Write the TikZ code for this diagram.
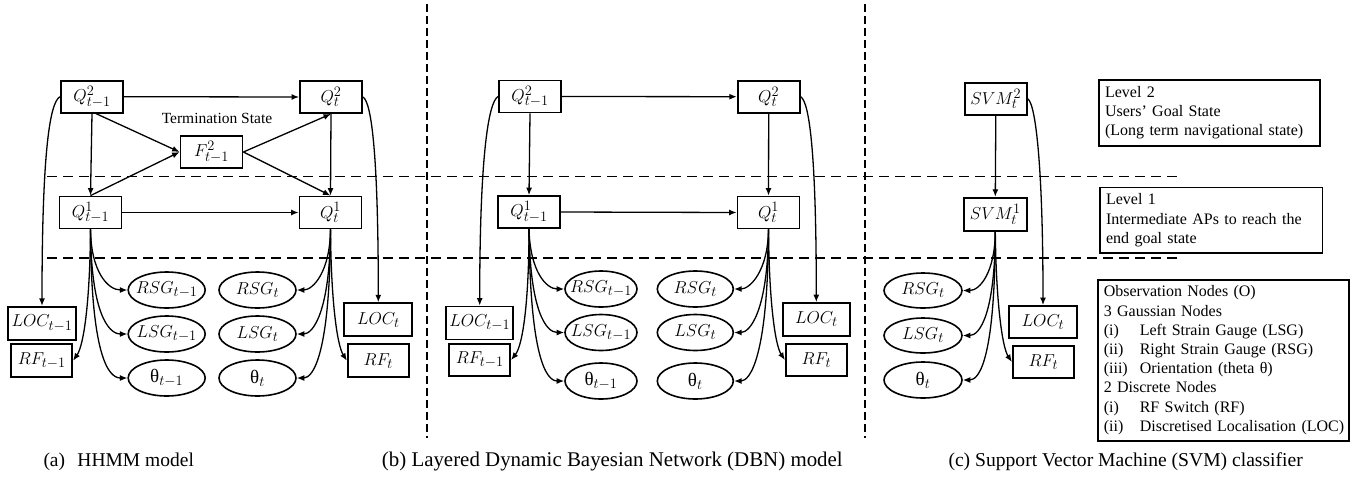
\documentclass[tikz,border=0pt]{standalone}
\usepackage{fontspec}
\setmainfont{Liberation Serif}
\usetikzlibrary{shapes.geometric,arrows.meta}
\begin{document}
\begin{tikzpicture}[x=1pt,y=-1pt,
  mbox/.style={draw, line width=1.8pt, minimum width=62pt, minimum height=32pt, inner sep=0pt, font=\fontsize{19}{22}\selectfont},
  ell/.style={draw, ellipse, line width=1.6pt, minimum width=77pt, minimum height=36pt, inner sep=0pt, font=\fontsize{19}{22}\selectfont},
  arr/.style={line width=1.3pt, -{Latex[length=7.5pt,width=6pt]}},
  dline/.style={line width=1.4pt, dash pattern=on 10pt off 6pt},
  vline/.style={line width=1.4pt, dash pattern=on 8pt off 4pt},
  tbox/.style={draw, line width=1.6pt, anchor=north west, align=left, inner xsep=6pt, inner ysep=0pt, font=\fontsize{16}{19.2}\selectfont},
  captxt/.style={anchor=base west, inner sep=0pt},
  lbl/.style={inner sep=0pt, font=\fontsize{15.5}{18}\selectfont}
]
\useasboundingbox (0,0) rectangle (1364,485);

% dashed separators
\draw[vline] (427,4) -- (427,438);
\draw[vline] (865,4) -- (865,438);
\draw[dline] (47,176.7) -- (1182,176.7);
\draw[dline] (47,258) -- (1182,258);

% ---------------- (a) HHMM ----------------
\node[mbox] (La2) at (92,96.7) {$Q^2_{t-1}$};
\node[mbox] (Lb2) at (331,97) {$Q^2_t$};
\node[mbox] (Lf) at (211.5,152) {$F^2_{t-1}$};
\node[lbl] (Lterm) at (217,118) {Termination State};
\node[mbox] (La1) at (90.5,212.5) {$Q^1_{t-1}$};
\node[mbox] (Lb1) at (330.5,212.5) {$Q^1_t$};
\node[ell] (Lr1) at (166.7,290) {\makebox[0pt]{$RSG_{t-1}$}};
\node[ell] (Ll1) at (166.7,334) {\makebox[0pt]{$LSG_{t-1}$}};
\node[ell] (Lh1) at (166.7,378) {\makebox[0pt]{$\mbox{θ}_{t-1}$}};
\node[ell] (Lr2) at (257.5,290) {\makebox[0pt]{$RSG_t$}};
\node[ell] (Ll2) at (257.5,334) {\makebox[0pt]{$LSG_t$}};
\node[ell] (Lh2) at (257.5,378) {\makebox[0pt]{$\mbox{θ}_t$}};
\node[mbox, minimum width=68pt, minimum height=33pt] (Lloc1) at (42,323.3) {$LOC_{t-1}$};
\node[mbox, minimum width=61pt, minimum height=33pt] (Lrf1) at (41.7,360.7) {$RF_{t-1}$};
\node[mbox, minimum width=68pt, minimum height=33pt] (Lloc2) at (378.3,319.7) {$LOC_t$};
\node[mbox, minimum width=61pt, minimum height=33pt] (Lrf2) at (378.3,360.7) {$RF_t$};

\draw[arr] (La2.east) -- (Lb2.west);
\draw[arr] (La2.south) -- (La1.north);
\draw[arr] ([xshift=4pt]La2.south) -- (Lf.west);
\draw[arr] (La1.north) -- (Lf.west);
\draw[arr] (Lf.east) -- (Lb2.south);
\draw[arr] (Lf.east) -- (Lb1.north);
\draw[arr] (Lb2.south) -- (Lb1.north);
\draw[arr] (La1.east) -- (Lb1.west);
\draw[arr] (La2.west) .. controls (49,102) and (42,160) .. (Lloc1.north);
\draw[arr] (Lb2.east) .. controls (372,102) and (378.3,160) .. (Lloc2.north);
\draw[arr] (La1.south) .. controls (91,272) and (108,290) .. (Lr1.west);
\draw[arr] (La1.south) .. controls (91,312) and (108,334) .. (Ll1.west);
\draw[arr] (La1.south) .. controls (91,355) and (108,378) .. (Lh1.west);
\draw[arr] (La1.south) .. controls (90,300) and (84,345) .. (Lrf1.east);
\draw[arr] (Lb1.south) .. controls (330,272) and (313,290) .. (Lr2.east);
\draw[arr] (Lb1.south) .. controls (330,312) and (313,334) .. (Ll2.east);
\draw[arr] (Lb1.south) .. controls (330,355) and (313,378) .. (Lh2.east);
\draw[arr] (Lb1.south) .. controls (331,300) and (337,345) .. (Lrf2.west);

% ---------------- (b) DBN ----------------
\node[mbox] (Ma2) at (530,96.5) {$Q^2_{t-1}$};
\node[mbox] (Mb2) at (768.7,96.7) {$Q^2_t$};
\node[mbox] (Ma1) at (529,212) {$Q^1_{t-1}$};
\node[mbox] (Mb1) at (768.5,212.5) {$Q^1_t$};
\node[ell, minimum width=72pt] (Mr1) at (601,289) {\makebox[0pt]{$RSG_{t-1}$}};
\node[ell, minimum width=72pt] (Ml1) at (601,332.5) {\makebox[0pt]{$LSG_{t-1}$}};
\node[ell, minimum width=72pt] (Mh1) at (601,381) {\makebox[0pt]{$\mbox{θ}_{t-1}$}};
\node[ell, minimum width=76pt] (Mr2) at (695.3,289) {\makebox[0pt]{$RSG_t$}};
\node[ell, minimum width=76pt] (Ml2) at (695.3,332.5) {\makebox[0pt]{$LSG_t$}};
\node[ell, minimum width=76pt] (Mh2) at (695.3,381) {\makebox[0pt]{$\mbox{θ}_t$}};
\node[mbox, minimum width=67pt, minimum height=33pt] (Mloc1) at (479.7,323) {$LOC_{t-1}$};
\node[mbox, minimum width=61pt, minimum height=32pt] (Mrf1) at (479.7,360) {$RF_{t-1}$};
\node[mbox, minimum width=67pt, minimum height=33pt] (Mloc2) at (816.3,319.5) {$LOC_t$};
\node[mbox, minimum width=61pt, minimum height=32pt] (Mrf2) at (816.3,360) {$RF_t$};

\draw[arr] (Ma2.east) -- (Mb2.west);
\draw[arr] (Ma2.south) -- (Ma1.north);
\draw[arr] (Mb2.south) -- (Mb1.north);
\draw[arr] (Ma1.east) -- (Mb1.west);
\draw[arr] (Ma2.west) .. controls (488,102) and (479.7,160) .. (Mloc1.north);
\draw[arr] (Mb2.east) .. controls (810,102) and (816.3,160) .. (Mloc2.north);
\draw[arr] (Ma1.south) .. controls (530,271) and (546,289) .. (Mr1.west);
\draw[arr] (Ma1.south) .. controls (530,311) and (546,332.5) .. (Ml1.west);
\draw[arr] (Ma1.south) .. controls (530,357) and (546,381) .. (Mh1.west);
\draw[arr] (Ma1.south) .. controls (529,300) and (523,345) .. (Mrf1.east);
\draw[arr] (Mb1.south) .. controls (768,271) and (750,289) .. (Mr2.east);
\draw[arr] (Mb1.south) .. controls (768,311) and (750,332.5) .. (Ml2.east);
\draw[arr] (Mb1.south) .. controls (768,357) and (750,381) .. (Mh2.east);
\draw[arr] (Mb1.south) .. controls (769,300) and (775,345) .. (Mrf2.west);

% ---------------- (c) SVM ----------------
\node[mbox] (S2) at (995.8,98.8) {$SVM^2_t$};
\node[mbox, minimum width=63pt, minimum height=33pt] (S1) at (995.3,214.2) {$SVM^1_t$};
\node[ell, minimum width=78pt, minimum height=35pt] (Sr) at (923,290.5) {\makebox[0pt]{$RSG_t$}};
\node[ell, minimum width=78pt, minimum height=35pt] (Sl) at (923,335.5) {\makebox[0pt]{$LSG_t$}};
\node[ell, minimum width=78pt, minimum height=36pt] (Sh) at (923,380) {\makebox[0pt]{$\mbox{θ}_t$}};
\node[mbox, minimum width=68pt, minimum height=32pt] (Sloc) at (1043,322) {$LOC_t$};
\node[mbox, minimum width=61pt, minimum height=32pt] (Srf) at (1043.3,362) {$RF_t$};

\draw[arr] (S2.south) -- (S1.north);
\draw[arr] (S2.east) .. controls (1036,104) and (1043,170) .. (Sloc.north);
\draw[arr] (S1.south) .. controls (995,272) and (980,290.5) .. (Sr.east);
\draw[arr] (S1.south) .. controls (995,313) and (980,335.5) .. (Sl.east);
\draw[arr] (S1.south) .. controls (995,356) and (980,380) .. (Sh.east);
\draw[arr] (S1.south) .. controls (996,300) and (1002,347) .. (Srf.west);

% legend boxes
\node[tbox, text width=209pt, minimum height=65.7pt] (lv2) at (1098.3,79.3)
  {\mbox{Level 2}\\\mbox{Users' Goal State}\\\mbox{(Long term navigational state)}};
\node[tbox, text width=210.4pt, minimum height=65.6pt] (lv1) at (1099.3,186.7)
  {\mbox{Level 1}\\\mbox{Intermediate APs to reach the}\\\mbox{end goal state}};
\node[tbox, text width=239pt, minimum height=161pt] (obs) at (1097,279)
  {\mbox{Observation Nodes (O)}\\
   \mbox{3 Gaussian Nodes}\\
   \mbox{\makebox[36pt][l]{(i)}Left Strain Gauge (LSG)}\\
   \mbox{\makebox[36pt][l]{(ii)}Right Strain Gauge (RSG)}\\
   \mbox{\makebox[36pt][l]{(iii)}Orientation (theta θ)}\\
   \mbox{2 Discrete Nodes}\\
   \mbox{\makebox[36pt][l]{(i)}RF Switch (RF)}\\
   \mbox{\makebox[36pt][l]{(ii)}Discretised Localisation (LOC)}};

% captions
\node[captxt, font=\fontsize{19.5}{22}\selectfont] (capa) at (43.3,466) {\makebox[34pt][l]{(a)}HHMM model};
\node[captxt, font=\fontsize{20.9}{24}\selectfont] (capb) at (381.7,466) {(b) Layered Dynamic Bayesian Network (DBN) model};
\node[captxt, font=\fontsize{19.6}{22}\selectfont] (capc) at (948.3,466) {(c) Support Vector Machine (SVM) classifier};
\end{tikzpicture}
\end{document}
